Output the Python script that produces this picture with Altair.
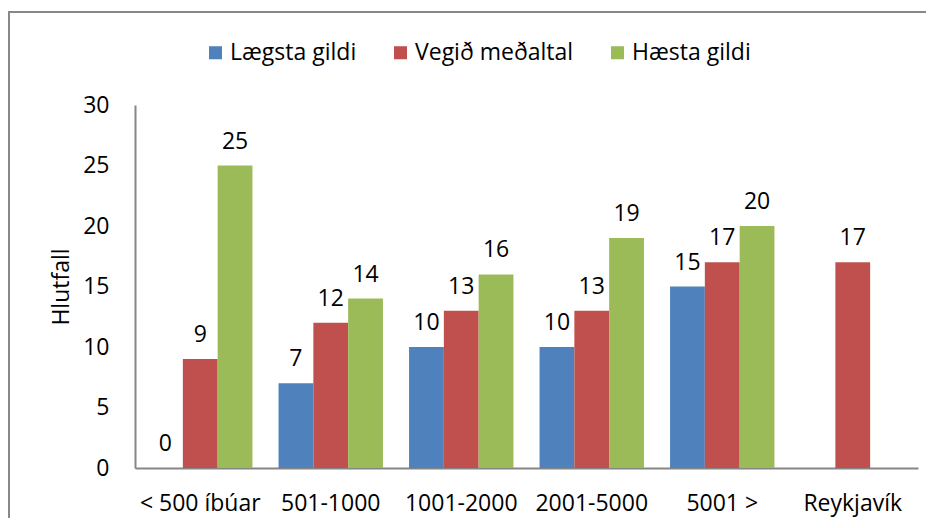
import altair as alt
import pandas as pd

categories = ["< 500 íbúar", "501-1000", "1001-2000", "2001-5000", "5001 >", "Reykjavík"]
series = ["Lægsta gildi", "Vegið meðaltal", "Hæsta gildi"]
laegsta = [0, 7, 10, 10, 15, None]
vegid = [9, 12, 13, 13, 17, 17]
haesta = [25, 14, 16, 19, 20, None]
colors = ["#4F81BD", "#C0504D", "#9BBB59"]
y_ticks = [0, 5, 10, 15, 20, 25, 30]
y_title = "Hlutfall"

rows = []
for s, vals in zip(series, [laegsta, vegid, haesta]):
    for c, v in zip(categories, vals):
        rows.append({"cat": c, "series": s, "value": v})
df = pd.DataFrame(rows)

FONT = "Open Sans"
FS = 23

x = alt.X("cat:N", sort=categories, title=None,
          scale=alt.Scale(paddingInner=0.2, paddingOuter=0.1),
          axis=alt.Axis(labelAngle=0, ticks=False, domainColor="#868686", domainWidth=2,
                        labelPadding=24, labelFontSize=FS, labelFont=FONT, labelColor="#000"))
xo = alt.XOffset("series:N", sort=series, scale=alt.Scale(paddingInner=0, paddingOuter=0))
y = alt.Y("value:Q", scale=alt.Scale(domain=[0, 30], nice=False), title=None,
          axis=alt.Axis(values=y_ticks, ticks=False, grid=False, domainColor="#868686", domainWidth=2,
                        labelPadding=26, labelFontSize=FS, labelFont=FONT, labelColor="#000"))
color = alt.Color("series:N", sort=series, scale=alt.Scale(domain=series, range=colors),
                  legend=alt.Legend(title=None, orient="none", legendX=69, legendY=-64,
                                    direction="horizontal", symbolType="square", symbolSize=170,
                                    symbolStrokeWidth=0, labelFontSize=FS, labelFont=FONT,
                                    labelColor="#000", labelOffset=3, columnPadding=32,
                                    padding=0))

base = alt.Chart(df).transform_filter("datum.value != null")
bars = base.mark_bar().encode(x=x, xOffset=xo, y=y, color=color)
labels = base.mark_text(baseline="alphabetic", dy=-17, fontSize=FS, font=FONT, color="#000").encode(
    x=alt.X("cat:N", sort=categories), xOffset=alt.XOffset("series:N", sort=series),
    y="value:Q", text=alt.Text("value:Q", format="d"))

frame_df = pd.DataFrame({"k": [0]})
title_df = pd.DataFrame({"t": [y_title]})
ytitle = alt.Chart(title_df).mark_text(angle=270, align="center", baseline="middle",
                                       fontSize=FS, font=FONT, color="#000").encode(
    x=alt.value(-73), y=alt.value(182), text="t:N")
left_line = alt.Chart(frame_df).mark_rule(color="#888888", strokeWidth=2).encode(
    x=alt.value(-126), y=alt.value(-93), y2=alt.value(440))
top_line = alt.Chart(frame_df).mark_rule(color="#888888", strokeWidth=2).encode(
    x=alt.value(-127), x2=alt.value(820), y=alt.value(-93))

chart = alt.layer(bars, labels, ytitle, left_line, top_line).properties(
    width=783, height=363,
    autosize=alt.AutoSizeParams(type="none"),
    padding={"left": 127, "top": 97, "right": 8, "bottom": 50},
).configure_view(stroke=None)

chart.save("out.html", embed_options={"renderer": "svg", "actions": False})
